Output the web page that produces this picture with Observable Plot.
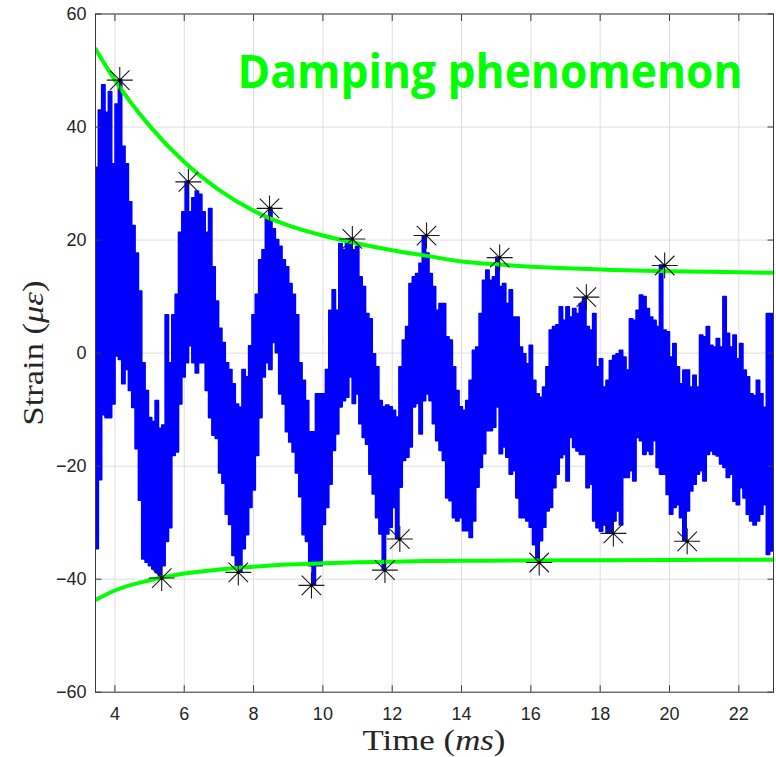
<!DOCTYPE html>
<html><head><meta charset="utf-8">
<script src="https://cdn.jsdelivr.net/npm/d3@7"></script>
<script src="https://cdn.jsdelivr.net/npm/@observablehq/plot@0.6"></script>
<style>
html,body{margin:0;padding:0;background:#fff;}
#chart{width:776px;height:757px;overflow:hidden;}
</style>
</head><body><div id="chart"></div>
<script>
// ---- data ----
const xTicks = [4, 6, 8, 10, 12, 14, 16, 18, 20, 22];
const yTicks = [-60, -40, -20, 0, 20, 40, 60];
const timeStart = 3.44, timeEnd = 23.0;

// upper / lower envelope of the noisy strain signal, one value per sample column
const upperEnvelope = [
 32.8, 42.9, 47.4, 42.5, 46.2, 33.4, 44.0, 48.3, 36.5, 33.4,
 26.7, 22.5, 17.6, 10.9, -1.8, -6.7, -11.5, -12.2, -8.5, -13.4,
 -12.8, 6.7, -1.8, 6.7, 10.3, 21.3, 24.9, 30.3, 24.9, 27.4,
 28.6, 28.0, 24.9, 21.3, 25.5, 15.2, 9.1, 4.3, 1.8, -1.8,
 -3.0, -5.5, -9.1, -9.7, -3.0, -4.3, 1.2, 6.7, 10.3, 16.4,
 18.2, 24.0, 25.6, 21.9, 20.0, 18.8, 16.4, 15.2, 12.2, 10.3,
 6.7, -1.8, -4.9, -8.5, -14.0, -14.0, -7.3, -7.3, -7.3, -3.0,
 7.5, 11.1, 7.5, 19.3, 18.2, 20.1, 20.2, 18.2, 18.8, 13.4,
 11.7, 6.9, 6.0, -0.2, -2.5, -8.5, -9.6, -9.3, -9.6, -10.2,
 -11.4, -2.5, 2.2, 4.6, 12.2, 13.4, 14.0, 15.8, 20.7, 17.6,
 14.0, 11.7, 7.5, 8.7, 8.7, 2.8, 2.2, -2.5, -6.7, -9.6,
 -10.2, -8.5, -4.9, 0.4, 1.0, 6.9, 12.8, 14.6, 12.8, 13.4,
 16.9, 11.7, 12.2, 8.7, 11.1, 6.3, 6.3, 1.0, -0.2, -2.0,
 1.3, -4.9, -7.3, -7.9, -6.1, -2.5, 4.0,
 4.6, 4.9, 8.1, 5.7, 8.1, 6.3, 7.8, 6.9, 8.7, 9.8,
 4.6, 4.0, 6.9, -2.5, -1.1, -6.1, -4.9, -1.4, -0.5, -0.2,
 0.4, -0.8, -3.1, 6.0, 5.7, 7.5, 10.2, 9.9, 7.8, 6.3,
 5.7, 4.6, 15.5, 4.0, 3.7, -0.8, 1.6, -2.5, -5.5, -3.1,
 -3.1, -6.1, -4.0, -6.1, 3.1, 2.8, 4.6, 1.3, 1.0, 2.5,
 1.0, 9.9, 3.4, 1.0, 3.1, -1.1, 1.6, -3.1, -4.3, -7.3,
 -7.6, -4.9, -7.3, -9.7, 6.9, 6.9
];
const lowerEnvelope = [
 -34.7, -22.5, -11.0, -11.5, -11.5, -9.1, -0.6, -1.2, -5.5, -3.0,
 -6.7, -9.7, -17.0, -26.1, -36.5, -37.1, -37.7, -38.3, -38.9, -39.8,
 -37.7, -33.4, -31.0, -18.2, -17.6, -9.1, -4.3, -1.8, 1.2, -1.8,
 -3.6, -1.8, -1.8, -6.7, -11.5, -14.6, -15.2, -21.3, -23.1, -28.6,
 -30.4, -35.9, -38.3, -38.8, -34.7, -32.2, -27.4, -24.3, -18.2, -11.5,
 -4.3, -1.8, -3.0, 1.8, 0.0, -7.3, -9.1, -14.0, -15.8, -17.6,
 -21.3, -25.5, -32.2, -33.4, -37.7, -41.1, -37.7, -37.7, -30.4, -27.4,
 -23.3, -17.3, -14.4, -9.6, -8.5, -7.9, -4.3, -9.0, -7.3, -12.6,
 -15.0, -16.2, -21.5, -25.0, -29.2, -32.1, -38.4, -32.1, -30.9, -27.4,
 -32.9, -23.8, -19.1, -18.5, -16.7, -9.6, -9.0, -14.4, -8.5, -7.3,
 -8.5, -12.6, -15.6, -17.3, -19.1, -25.7, -26.2, -29.2, -29.8, -29.2,
 -31.5, -31.5, -32.7, -29.8, -23.8, -20.3, -17.9, -13.8, -13.8, -13.2,
 -9.6, -17.9, -16.7, -18.5, -21.5, -20.9, -25.7, -29.2, -29.2, -29.8,
 -30.9, -34.0, -37.1, -33.3, -30.9, -28.0, -27.4,
 -23.9, -21.5, -18.6, -18.0, -22.7, -15.0, -16.8, -17.4, -18.0, -18.0,
 -23.9, -23.3, -29.8, -31.0, -31.6, -30.5, -31.9, -31.9, -29.8, -28.0,
 -30.5, -22.1, -22.1, -20.9, -22.7, -15.0, -15.6, -18.0, -17.4, -18.0,
 -15.6, -20.3, -21.5, -21.5, -25.1, -28.6, -27.4, -26.9, -29.2, -33.3,
 -28.0, -24.5, -23.3, -21.5, -20.9, -22.7, -18.0, -17.4, -18.0, -18.3,
 -19.7, -20.3, -22.1, -21.5, -26.3, -26.9, -23.9, -25.7, -28.6, -29.8,
 -30.5, -29.8, -28.6, -26.9, -35.7, -35.1
];

// detected peaks (asterisks)
const peakTimes   = [4.14, 6.12, 8.46, 10.85, 12.99, 15.1, 17.6, 19.86];
const peakValues  = [48.3, 30.3, 25.6, 20.2, 20.8, 16.9, 9.9, 15.5];
const troughTimes  = [5.35, 7.56, 9.67, 11.79, 12.22, 16.24, 18.38, 20.51];
const troughValues = [-39.8, -38.8, -41.1, -38.4, -32.9, -37.05, -31.9, -33.3];

// fitted damping envelopes (green)
const upperFitTimes  = [3.44, 4, 5, 6, 7, 8, 9, 10, 11, 12, 13, 14, 15, 16, 17, 18, 19, 20, 21, 22, 23];
const upperFitValues = [53.8, 48.3, 40.2, 33.8, 28.9, 25.2, 22.6, 20.8, 19.4, 18.2, 17.2, 16.2, 15.7, 15.3, 15.0, 14.8, 14.6, 14.5, 14.4, 14.3, 14.2];
const lowerFitTimes  = [3.44, 4, 5, 6, 7, 8, 9, 10, 11, 12, 13, 14, 16, 18, 20, 23];
const lowerFitValues = [-43.7, -42.0, -40.2, -39.0, -38.3, -37.8, -37.4, -37.2, -37.0, -36.9, -36.8, -36.75, -36.7, -36.65, -36.6, -36.55];

const titleText = "Damping phenomenon";

// ---- build tables ----
const n = upperEnvelope.length;
const dt = (timeEnd - timeStart) / n;
const band = upperEnvelope.map((u, i) => ({t: timeStart + i * dt, hi: u, lo: lowerEnvelope[i]}));
band.push({t: timeEnd, hi: upperEnvelope[n - 1], lo: lowerEnvelope[n - 1]});
const markers = peakTimes.map((t, i) => ({t, v: peakValues[i]}))
  .concat(troughTimes.map((t, i) => ({t, v: troughValues[i]})));
const upperFit = upperFitTimes.map((t, i) => ({t, v: upperFitValues[i]}));
const lowerFit = lowerFitTimes.map((t, i) => ({t, v: lowerFitValues[i]}));

const asterisk = {
  draw(ctx, size) {
    const r = Math.sqrt(size / Math.PI), d = r * 0.75;
    ctx.moveTo(-r, 0); ctx.lineTo(r, 0);
    ctx.moveTo(0, -r); ctx.lineTo(0, r);
    ctx.moveTo(-d, -d); ctx.lineTo(d, d);
    ctx.moveTo(-d, d); ctx.lineTo(d, -d);
  }
};

const axisColor = "#262626";
const chart = Plot.plot({
  width: 776, height: 757,
  marginLeft: 95, marginRight: 3, marginTop: 13.5, marginBottom: 65.3,
  x: {domain: [timeStart, timeEnd]},
  y: {domain: [-60, 60]},
  style: {fontFamily: "'Liberation Sans', Arial, sans-serif", fontSize: "18px", color: axisColor, background: "#fff"},
  marks: [
    Plot.gridX(xTicks, {stroke: "#dedede", strokeOpacity: 1, strokeWidth: 1}),
    Plot.gridY(yTicks, {stroke: "#dedede", strokeOpacity: 1, strokeWidth: 1}),
    Plot.areaY(band, {x: "t", y1: "lo", y2: "hi", curve: "step-after", fill: "#0000ff", stroke: "#0000ff", strokeWidth: 1.6, clip: true}),
    Plot.line(upperFit, {x: "t", y: "v", curve: "monotone-x", stroke: "#00ff00", strokeWidth: 4, clip: true}),
    Plot.line(lowerFit, {x: "t", y: "v", curve: "monotone-x", stroke: "#00ff00", strokeWidth: 4, clip: true}),
    Plot.dot(markers, {x: "t", y: "v", symbol: asterisk, r: 13, stroke: "#1a1a1a", strokeWidth: 1.1, fill: "none"}),
    Plot.dot(markers, {x: "t", y: "v", r: 1.6, fill: "#000", stroke: "none"}),
    Plot.frame({stroke: "#3a3a3a", strokeWidth: 1}),
    Plot.axisX(xTicks, {anchor: "bottom", tickSize: 0, tickPadding: 15, label: null, fill: axisColor}),
    Plot.axisY(yTicks, {anchor: "left", tickSize: 0, tickPadding: 9, label: null, fill: axisColor}),
    Plot.axisX(xTicks, {anchor: "bottom", tickSize: -6.5, tickFormat: () => "", label: null, stroke: "#3a3a3a"}),
    Plot.axisX(xTicks, {anchor: "top", tickSize: -6.5, tickFormat: () => "", label: null, stroke: "#3a3a3a"}),
    Plot.axisY(yTicks, {anchor: "left", tickSize: -6.5, tickFormat: () => "", label: null, stroke: "#3a3a3a"}),
    Plot.axisY(yTicks, {anchor: "right", tickSize: -6.5, tickFormat: () => "", label: null, stroke: "#3a3a3a"}),
    Plot.text([titleText], {frameAnchor: "top-right", dx: -31, dy: 74, lineAnchor: "bottom", textAnchor: "end",
      fill: "#00ff00", fontFamily: "'Open Sans', sans-serif", fontWeight: "bold", fontSize: 47, className: "damp-title"})
  ]
});
document.getElementById("chart").appendChild(chart);

const svg = d3.select(chart.tagName.toLowerCase() === "svg" ? chart : chart.querySelector("svg"));
svg.selectAll(".damp-title text").attr("textLength", 505).attr("lengthAdjust", "spacingAndGlyphs");

// axis titles (LaTeX-style, serif with italic math)
const serif = "'Liberation Serif', 'Times New Roman', serif";
const xl = svg.append("text")
  .attr("x", 434).attr("y", 750).attr("text-anchor", "middle")
  .attr("font-family", serif).attr("font-size", 30).attr("fill", "#262626")
  .attr("textLength", 143).attr("lengthAdjust", "spacingAndGlyphs");
xl.append("tspan").text("Time (");
xl.append("tspan").attr("font-style", "italic").text("ms");
xl.append("tspan").text(")");

const yl = svg.append("text")
  .attr("transform", "translate(43,353) rotate(-90)").attr("text-anchor", "middle")
  .attr("font-family", serif).attr("font-size", 30).attr("fill", "#262626")
  .attr("textLength", 145).attr("lengthAdjust", "spacingAndGlyphs");
yl.append("tspan").text("Strain (");
yl.append("tspan").attr("font-style", "italic").text("με");
yl.append("tspan").text(")");
</script>
</body></html>
